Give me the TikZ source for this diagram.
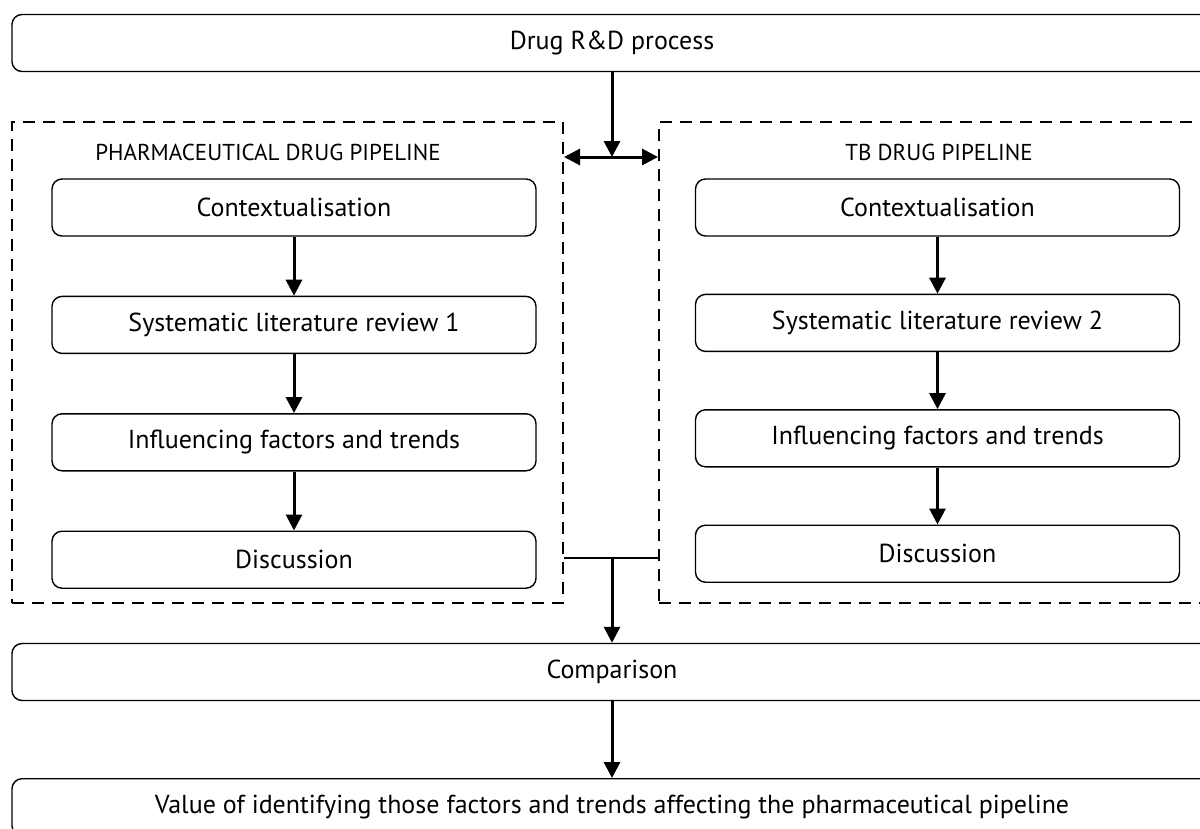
\documentclass[tikz,border=0pt]{standalone}
\usepackage{fontspec}
\setmainfont{PT Sans}
\usetikzlibrary{arrows.meta,positioning}

\begin{document}
\begin{tikzpicture}[
	x = 1pt, y = -1pt, % one unit per point, y running down
	node distance = 59pt, % gap between the steps of a pipeline
	font = \fontsize{26}{30}\selectfont,
	flow/.style={-{Triangle[length=16pt, width=16pt]}, line width=3pt}, % arrow style
	twoway/.style={{Triangle[length=16pt, width=16pt]}-{Triangle[length=16pt, width=16pt]}, line width=3pt},
	stage/.style={draw, rounded corners=10pt, line width=1.4pt, minimum height=57pt, inner sep=0pt},
	wide/.style={stage, minimum width=1200pt},
	stepbox/.style={stage, minimum width=484pt},
	pipe/.style={draw, line width=2pt, dash pattern=on 12pt off 8pt, minimum width=551pt, minimum height=481pt},
	title/.style={font=\fontsize{23}{27}\selectfont},
	]

	\clip (0,0) rectangle (1200,828);
	\useasboundingbox (0,0) rectangle (1200,828);

	% Whole process and the two pipelines
	\node[wide] (rd) at (612,43) {Drug R\&D process};
	\node[pipe] (pharma) at (287.5,362.5) {};
	\node[pipe, minimum width=556pt] (tb) at (937,362.5) {};
	\node[title] (pharmaT) at (268,152) {PHARMACEUTICAL DRUG PIPELINE};
	\node[title] (tbT) at (939,152) {TB DRUG PIPELINE};

	% Pharmaceutical pipeline steps
	\node[stepbox] (ctx1) at (294,207.5) {Contextualisation};
	\node[stepbox] (slr1) [below = of ctx1] {Systematic literature review 1};
	\node[stepbox] (inf1) [below = of slr1] {Influencing factors and trends};
	\node[stepbox] (dis1) [below = of inf1] {Discussion};
	\path[flow] (ctx1) edge (slr1);
	\path[flow] (slr1) edge (inf1);
	\path[flow] (inf1) edge (dis1);

	% TB pipeline steps
	\node[stepbox] (ctx2) at (937.5,207.5) {Contextualisation};
	\node[stepbox] (slr2) [below = 57pt of ctx2] {Systematic literature review 2};
	\node[stepbox] (inf2) [below = 57pt of slr2] {Influencing factors and trends};
	\node[stepbox] (dis2) [below = 57pt of inf2] {Discussion};
	\path[flow] (ctx2) edge (slr2);
	\path[flow] (slr2) edge (inf2);
	\path[flow] (inf2) edge (dis2);

	% Comparison and outcome
	\node[wide] (cmp) at (612,672) {Comparison};
	\node[wide, anchor=north] (val) at (612,778) {Value of identifying those factors and trends affecting the pharmaceutical pipeline};

	% Links between the pipelines
	\coordinate (link) at (612,157);
	\coordinate (join) at (612,558);
	\draw[flow] (rd.south) -- (link);
	\draw[twoway] (pharma.east |- link) -- (tb.west |- link);
	\draw[line width=1.4pt] (pharma.east |- join) -- (tb.west |- join);
	\draw[flow] (join) -- (cmp.north);
	\draw[flow] (cmp) -- (val);

\end{tikzpicture}
\end{document}
